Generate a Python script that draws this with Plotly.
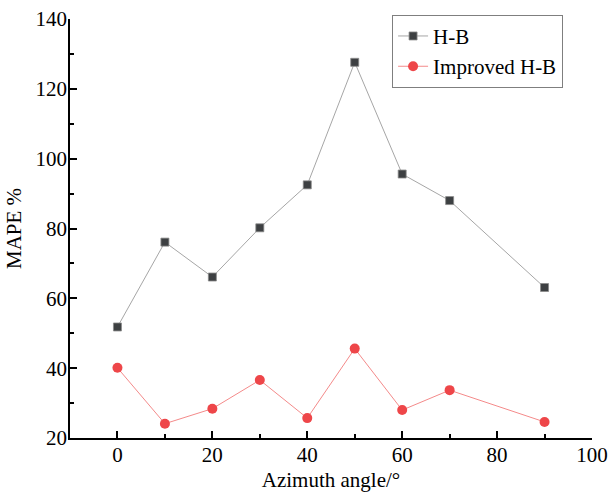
import plotly.graph_objects as go

# Azimuth angles (degrees) and MAPE values for both models
angles = [0, 10, 20, 30, 40, 50, 60, 70, 90]
mape_hb = [51.8, 76.1, 66.1, 80.2, 92.5, 127.6, 95.6, 88.0, 63.1]
mape_improved = [40.1, 24.1, 28.4, 36.6, 25.7, 45.6, 28.0, 33.7, 24.6]

x_ticks = [0, 20, 40, 60, 80, 100]
y_ticks = [20, 40, 60, 80, 100, 120, 140]

FONT = "Liberation Serif"

fig = go.Figure()
fig.add_trace(go.Scatter(
    x=angles, y=mape_hb, name="H-B", mode="lines+markers",
    line=dict(color="#a6a6a6", width=1),
    marker=dict(symbol="square", size=8, color="#3d4042",
                line=dict(color="#8a8a8a", width=0.8)),
))
fig.add_trace(go.Scatter(
    x=angles, y=mape_improved, name="Improved H-B", mode="lines+markers",
    line=dict(color="#f48a8a", width=1),
    marker=dict(symbol="circle", size=10, color="#ee4649",
                line=dict(color="#ee4649", width=0)),
))

axis_common = dict(
    showline=True, linecolor="black", linewidth=1.5,
    ticks="inside", ticklen=7, tickwidth=1.5, tickcolor="black",
    showgrid=False, zeroline=False, automargin=False,
    tickfont=dict(family=FONT, size=21, color="black"),
    minor=dict(ticks="inside", ticklen=4, tickwidth=1.5, tickcolor="black", dtick=10),
)

fig.update_xaxes(
    range=[-10, 100], tickvals=x_ticks, ticklabelstandoff=-3,
    title=dict(text="Azimuth angle/°", font=dict(family=FONT, size=21, color="black"), standoff=6),
    **axis_common,
)
fig.update_yaxes(
    range=[20, 140], tickvals=y_ticks, ticklabelstandoff=-3,
    title=dict(text="MAPE %", font=dict(family=FONT, size=21, color="black"), standoff=8),
    **axis_common,
)

fig.update_layout(
    width=609, height=496,
    margin=dict(l=70, r=17, t=19, b=58),
    plot_bgcolor="white", paper_bgcolor="white",
    font=dict(family=FONT, size=21, color="black"),
    legend=dict(
        x=0.617, y=1.01, xanchor="left", yanchor="top",
        bordercolor="#7f7f7f", borderwidth=1, bgcolor="white",
        font=dict(family=FONT, size=21, color="black"),
        tracegroupgap=0, itemwidth=30,
    ),
)

fig.write_html("out.html")
